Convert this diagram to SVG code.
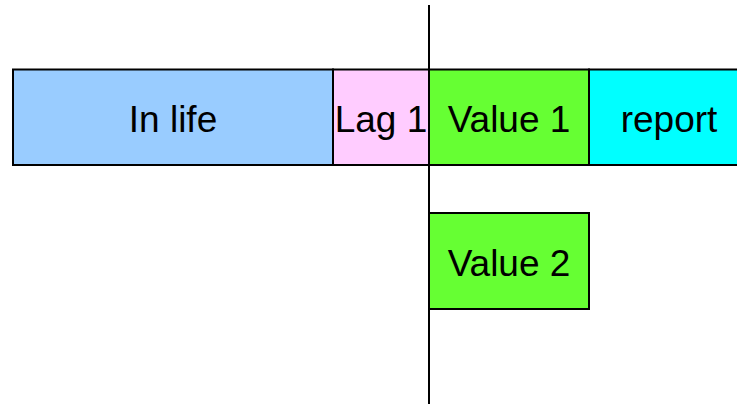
<svg xmlns="http://www.w3.org/2000/svg" width="737" height="404" viewBox="0 0 737 404">
<style>
.box{stroke:#000;stroke-width:2}
.lbl{font-family:"Liberation Sans",Arial,sans-serif;font-size:37px;fill:#000;text-anchor:middle}
</style>
<rect width="737" height="404" fill="#fff"/>
<g id="inlife"><rect class="box" x="13" y="69.5" width="320" height="95.5" fill="#99CCFF"/><text class="lbl" x="173" y="131.5">In life</text></g>
<g id="lag1"><rect class="box" x="333" y="69.5" width="96" height="95.5" fill="#FFCCFF"/><text class="lbl" x="381" y="131.5">Lag 1</text></g>
<g id="value1"><rect class="box" x="429" y="69.5" width="160" height="95.5" fill="#66FF33"/><text class="lbl" x="509" y="131.5">Value 1</text></g>
<g id="report"><rect class="box" x="589" y="69.5" width="160" height="95.5" fill="#00FFFF"/><text class="lbl" x="669" y="131.5">report</text></g>
<g id="value2"><rect class="box" x="429" y="213" width="160" height="96" fill="#66FF33"/><text class="lbl" x="509" y="275.5">Value 2</text></g>
<g id="connectors"><line x1="429" y1="5" x2="429" y2="404" stroke="#000" stroke-width="2"/></g>
</svg>
